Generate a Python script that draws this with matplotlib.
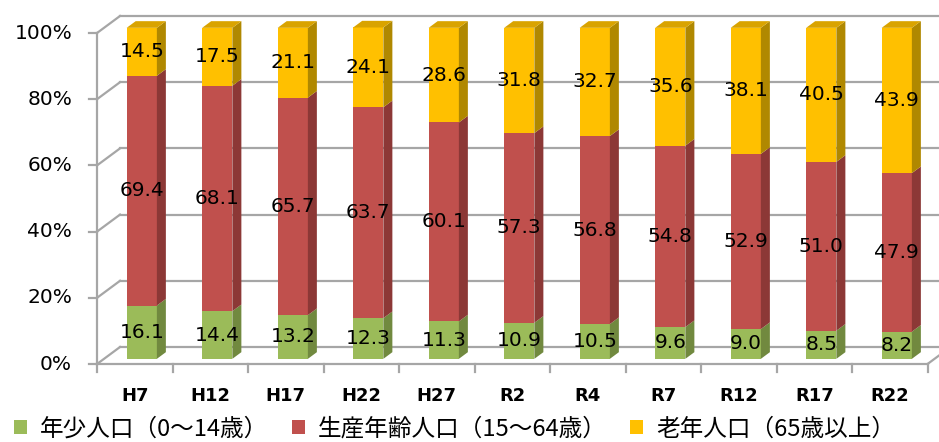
import matplotlib
matplotlib.use("Agg")
import matplotlib.pyplot as plt
from matplotlib.patches import Polygon, Patch

plt.rcParams['font.family'] = ['DejaVu Sans', 'Noto Sans CJK JP']

cats = ['H7', 'H12', 'H17', 'H22', 'H27', 'R2', 'R4', 'R7', 'R12', 'R17', 'R22']
young = [16.1, 14.4, 13.2, 12.3, 11.3, 10.9, 10.5, 9.6, 9.0, 8.5, 8.2]
working = [69.4, 68.1, 65.7, 63.7, 60.1, 57.3, 56.8, 54.8, 52.9, 51.0, 47.9]
elderly = [14.5, 17.5, 21.1, 24.1, 28.6, 31.8, 32.7, 35.6, 38.1, 40.5, 43.9]
series_names = ['年少人口（0〜14歳）', '生産年齢人口（15〜64歳）', '老年人口（65歳以上）']
yticks = [0, 20, 40, 60, 80, 100]

# front, side, top colours per series
front_cols = ['#9BBB59', '#C0504D', '#FFC000']
side_cols = ['#71893F', '#8C3836', '#B08800']
top_cols = ['#7E9A45', '#9E403D', '#D9A300']

# pseudo-3D depth: full depth of the box in data units
DX, DY = 0.3046, 5.14
d0, d1 = 7 / 23, 16 / 23      # bar front / back depth fraction
W = 0.40
grid_col = '#A6A6A6'

fig = plt.figure(figsize=(9.39, 4.42), dpi=100)
ax = fig.add_axes([0, 0, 1, 1])
ax.set_xlim(-1.785, 10.652)
ax.set_ylim(-23.56, 109.97)
ax.axis('off')

x_left = -0.5
x_right = len(cats) - 0.5

# back wall gridlines + left side wall
for p in yticks:
    ax.plot([x_left + DX, 11.0], [p + DY, p + DY], color=grid_col, lw=1.6, zorder=1)
    ax.plot([x_left, x_left + DX], [p, p + DY], color=grid_col, lw=1.6, zorder=1)
    ax.plot([x_left - 0.11, x_left], [p, p], color=grid_col, lw=1.6, zorder=1)
    ax.text(x_left - 0.33, p, f'{p}%', ha='right', va='center', fontsize=14.5, color='black')
ax.plot([x_left, x_left], [0, 100], color=grid_col, lw=1.6, zorder=1)

# floor front edge with category ticks
ax.plot([x_left, x_right], [0, 0], color=grid_col, lw=1.6, zorder=1)
ax.plot([x_right, x_right + DX], [0, DY], color=grid_col, lw=1.6, zorder=1)
for k in range(len(cats) + 1):
    ax.plot([x_left + k, x_left + k], [0, -2.4], color=grid_col, lw=1.6, zorder=1)
for k, c in enumerate(cats):
    ax.text(k, -9.6, c, ha='center', va='center', fontsize=13, fontweight='bold')

fx, fy = DX * d0, DY * d0
bdx, bdy = DX * (d1 - d0), DY * (d1 - d0)

for k in range(len(cats)):
    vals = [young[k], working[k], elderly[k]]
    base = 0.0
    xc = k + fx
    for s, v in enumerate(vals):
        ax.bar(xc, v, bottom=base + fy, width=W, color=front_cols[s], zorder=3, linewidth=0)
        xr = xc + W / 2
        side = Polygon([(xr, base + fy), (xr + bdx, base + fy + bdy),
                        (xr + bdx, base + v + fy + bdy), (xr, base + v + fy)],
                       closed=True, facecolor=side_cols[s], edgecolor='none', zorder=3)
        ax.add_patch(side)
        if s == len(vals) - 1:
            top = base + v + fy
            xl = xc - W / 2
            ax.add_patch(Polygon([(xl, top), (xr, top), (xr + bdx, top + bdy), (xl + bdx, top + bdy)],
                                 closed=True, facecolor=top_cols[s], edgecolor='none', zorder=3))
        ax.text(xc, base + fy + v / 2, f'{v:.1f}', ha='center', va='center',
                fontsize=14.5, color='black', zorder=5)
        base += v

handles = [Patch(facecolor=col, edgecolor='none') for col in front_cols]
fig.legend(handles, series_names, loc='lower left', bbox_to_anchor=(-0.008, -0.045), ncol=3,
           frameon=False, handlelength=0.55, handleheight=0.55, handletextpad=0.55,
           columnspacing=1.0, prop={'family': ['Noto Sans CJK JP', 'DejaVu Sans'], 'size': 17})

fig.savefig('out.png', dpi=100)
